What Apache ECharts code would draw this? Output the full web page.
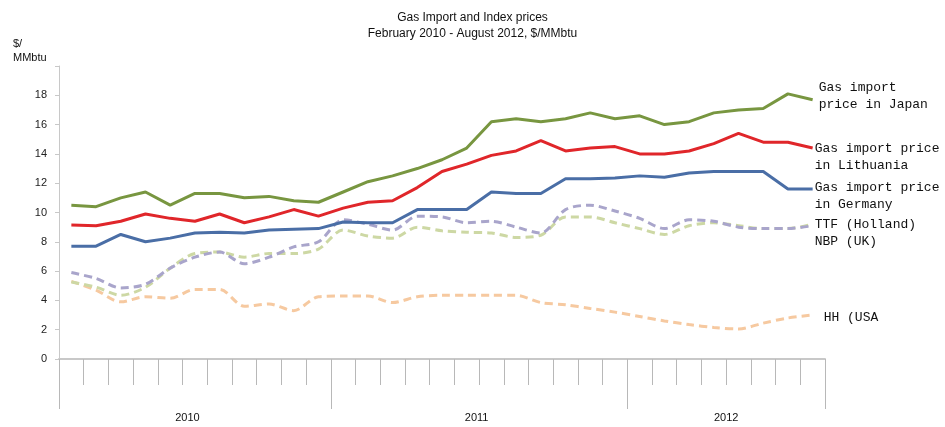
<!DOCTYPE html>
<html>
<head>
<meta charset="utf-8">
<script src="https://cdn.jsdelivr.net/npm/echarts@6/dist/echarts.min.js"></script>
<style>
  html, body { margin: 0; padding: 0; background: #fff; }
  #chart { width: 945px; height: 427px; }
</style>
</head>
<body>
<div id="chart"></div>
<script>
// months Feb 2010 - Aug 2012
var months = ['2010-02','2010-03','2010-04','2010-05','2010-06','2010-07','2010-08','2010-09','2010-10','2010-11','2010-12',
  '2011-01','2011-02','2011-03','2011-04','2011-05','2011-06','2011-07','2011-08','2011-09','2011-10','2011-11','2011-12',
  '2012-01','2012-02','2012-03','2012-04','2012-05','2012-06','2012-07','2012-08'];

var years = ['2010', '2011', '2012'];
var yearBounds = [0, 11, 23, 31];       // month index where each year starts / ends
var yearLabelAt = [5.2, 16.9, 27];      // where the year text sits on the month scale

var japan = [10.5,10.4,11.0,11.4,10.5,11.3,11.3,11.0,11.1,10.8,10.7,
  11.4,12.1,12.5,13.0,13.6,14.4,16.2,16.4,16.2,16.4,16.8,16.4,
  16.6,16.0,16.2,16.8,17.0,17.1,18.1,17.7];
var lithuania = [9.15,9.1,9.4,9.9,9.6,9.4,9.9,9.3,9.7,10.2,9.75,
  10.3,10.7,10.8,11.7,12.8,13.3,13.9,14.2,14.9,14.2,14.4,14.5,
  14.0,14.0,14.2,14.7,15.4,14.8,14.8,14.4];
var germany = [7.7,7.7,8.5,8.0,8.25,8.6,8.65,8.6,8.8,8.85,8.9,
  9.35,9.3,9.3,10.2,10.2,10.2,11.4,11.3,11.3,12.3,12.3,12.35,
  12.5,12.4,12.7,12.8,12.8,12.8,11.6,11.6];
var ttf = [5.9,5.5,4.85,5.1,6.2,6.95,7.3,6.5,6.95,7.65,8.0,
  9.5,9.2,8.8,9.75,9.7,9.3,9.4,9.0,8.6,10.2,10.5,10.1,
  9.6,8.9,9.5,9.4,9.0,8.9,8.9,9.1];
var nbp = [5.25,4.9,4.35,4.9,6.2,7.2,7.3,6.95,7.2,7.2,7.5,
  8.8,8.4,8.25,9.0,8.75,8.65,8.6,8.3,8.45,9.7,9.7,9.3,
  8.9,8.5,9.1,9.3,9.1,8.9,8.9,9.2];
var hh = [5.3,4.7,3.9,4.25,4.15,4.75,4.75,3.6,3.75,3.3,4.25,
  4.3,4.3,3.85,4.25,4.35,4.35,4.35,4.35,3.85,3.7,3.45,3.2,
  2.9,2.6,2.35,2.15,2.05,2.45,2.8,3.0];

var monoFont = '"Liberation Mono", "Courier New", monospace';
var narrowFont = '"Liberation Sans Narrow", "Liberation Sans", Arial, sans-serif';

function line(name, data, color, dashed, label, offset) {
  return {
    name: name,
    type: 'line',
    data: data,
    symbol: 'none',
    smooth: dashed ? 0.3 : false,
    lineStyle: { color: color, width: 3, type: dashed ? [8, 5] : 'solid' },
    endLabel: {
      show: true,
      formatter: label,
      offset: offset,
      color: '#111',
      fontFamily: monoFont,
      fontSize: 13,
      lineHeight: 17
    },
    z: dashed ? 2 : 3
  };
}

var myChart = echarts.init(document.getElementById('chart'));

var option = {
  animation: false,
  title: [
    {
      text: 'Gas Import and Index prices',
      subtext: 'February 2010 - August 2012, $/MMbtu',
      left: 'center',
      top: 7,
      itemGap: 4,
      textStyle: { fontFamily: narrowFont, fontSize: 12, fontWeight: 'normal', color: '#111' },
      subtextStyle: { fontFamily: narrowFont, fontSize: 12, color: '#111' }
    },
    {
      text: '$/\nMMbtu',
      left: 8,
      top: 32,
      textStyle: { fontFamily: narrowFont, fontSize: 11, fontWeight: 'normal', color: '#111', lineHeight: 14 }
    }
  ],
  grid: { left: 59, right: 120, top: 66, bottom: 68 },
  xAxis: [
    {
      type: 'category',
      data: months,
      position: 'bottom',
      boundaryGap: true,
      axisLine: { lineStyle: { color: '#c8c8c8', width: 2 } },
      axisTick: { show: true, interval: 0, length: 26, lineStyle: { color: '#b8b8b8' } },
      axisLabel: { show: true, interval: 0, formatter: function () { return ''; } }
    },
    {
      type: 'value',
      min: 0,
      max: 31,
      position: 'bottom',
      axisLine: { show: false },
      splitLine: { show: false },
      axisTick: { show: true, customValues: yearBounds, length: 50, lineStyle: { color: '#b8b8b8' } },
      axisLabel: {
        customValues: yearLabelAt,
        margin: 53,
        formatter: function (v) { return years[yearLabelAt.indexOf(v)]; },
        fontFamily: '"Liberation Sans", Arial, sans-serif',
        fontSize: 11,
        color: '#111'
      }
    }
  ],
  yAxis: {
    type: 'value',
    min: 0,
    max: 20,
    interval: 2,
    axisLine: { show: true, lineStyle: { color: '#c8c8c8', width: 1 } },
    axisTick: { show: true, length: 4, lineStyle: { color: '#c8c8c8' } },
    splitLine: { show: false },
    axisLabel: {
      margin: 12,
      fontFamily: '"Liberation Sans", Arial, sans-serif',
      fontSize: 11,
      color: '#222',
      formatter: function (v) { return v === 20 ? '' : v; }
    }
  },
  series: [
    line('HH (USA)', hh, '#f6c9a0', true, 'HH (USA', [3, 3]),
    line('NBP (UK)', nbp, '#cdd8a4', true, 'NBP (UK)', [-6, 17]),
    line('TTF (Holland)', ttf, '#a9a5cb', true, 'TTF (Holland)', [-6, -1]),
    line('Germany', germany, '#4a6ea6', false, 'Gas import price\nin Germany', [-6, 7]),
    line('Lithuania', lithuania, '#e0262a', false, 'Gas import price\nin Lithuania', [-6, 9]),
    line('Japan', japan, '#789640', false, 'Gas import\nprice in Japan', [-2, -4])
  ]
};

myChart.setOption(option);
</script>
</body>
</html>
